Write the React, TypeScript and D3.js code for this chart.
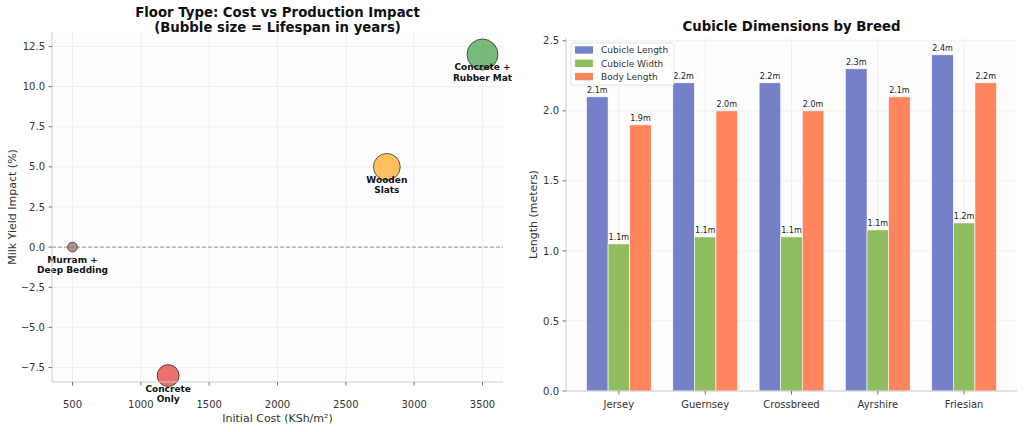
import React from "react";
import * as d3 from "d3";

// Floor options: cost, production effect and lifespan
const floorNames = ["Murram +\nDeep Bedding", "Concrete\nOnly", "Wooden\nSlats", "Concrete +\nRubber Mat"];
const floorCost = [500, 1200, 2800, 3500];
const milkImpact = [0, -8, 5, 12];
const lifespanYears = [2, 10, 15, 20];
const floorColors = ["#8D6E63", "#E53935", "#FFA726", "#43A047"];
const costTicks = [500, 1000, 1500, 2000, 2500, 3000, 3500];
const impactTicks = [-7.5, -5, -2.5, 0, 2.5, 5, 7.5, 10, 12.5];

// Cubicle sizes per breed
const breeds = ["Jersey", "Guernsey", "Crossbreed", "Ayrshire", "Friesian"];
const cubicleLength = [2.1, 2.2, 2.2, 2.3, 2.4];
const cubicleWidth = [1.05, 1.1, 1.1, 1.15, 1.2];
const bodyLength = [1.9, 2.0, 2.0, 2.1, 2.2];
const seriesNames = ["Cubicle Length", "Cubicle Width", "Body Length"];
const seriesColors = ["#5C6BC0", "#7CB342", "#FF7043"];
const lengthTicks = [0, 0.5, 1.0, 1.5, 2.0, 2.5];

const FONT = "DejaVu Sans, sans-serif";
const GRID = "#ececec";
const SPINE = "#cccccc";
const TEXT = "#333333";
const TITLE_SIZE = 13.3;
const fmt1 = d3.format(".1f");

function FloorChart() {
  const left = 52, right = 503, top = 32, bottom = 382;
  const x = d3.scaleLinear().domain([350, 3650]).range([left, right]);
  const y = d3.scaleLinear().domain([-8.4, 13.4]).range([bottom, top]);
  const r = d3.scaleSqrt().domain([0, 20]).range([0, 15.5]);
  return (
    <g>
      <rect x={left} y={top} width={right - left} height={bottom - top} fill="#fdfdfd" />
      {costTicks.map((t) => (
        <line key={"gx" + t} x1={x(t)} x2={x(t)} y1={top} y2={bottom} stroke={GRID} strokeWidth={0.8} />
      ))}
      {impactTicks.map((t) => (
        <line key={"gy" + t} x1={left} x2={right} y1={y(t)} y2={y(t)} stroke={GRID} strokeWidth={0.8} />
      ))}
      <line x1={left} x2={right} y1={y(0)} y2={y(0)} stroke="#808080" strokeOpacity={0.8} strokeWidth={1} strokeDasharray="4,2" />
      {floorCost.map((c, i) => (
        <circle key={"b" + i} cx={x(c)} cy={y(milkImpact[i])} r={r(lifespanYears[i])}
          fill={floorColors[i]} fillOpacity={0.72} stroke="#222" strokeOpacity={0.7} strokeWidth={1} />
      ))}
      {floorCost.map((c, i) => (
        <text key={"l" + i} x={x(c)} y={y(milkImpact[i]) + 16} fontFamily={FONT} fontSize={9}
          fontWeight="bold" textAnchor="middle" fill="#111">
          {floorNames[i].split("\n").map((s, j) => (
            <tspan key={j} x={x(c)} dy={j === 0 ? 0 : 10.2}>{s}</tspan>
          ))}
        </text>
      ))}
      <line x1={left} x2={left} y1={top} y2={bottom} stroke={SPINE} strokeWidth={1} />
      <line x1={left} x2={right} y1={bottom} y2={bottom} stroke={SPINE} strokeWidth={1} />
      {costTicks.map((t) => (
        <g key={"tx" + t}>
          <line x1={x(t)} x2={x(t)} y1={bottom} y2={bottom + 3.5} stroke="#555" strokeWidth={0.8} />
          <text x={x(t)} y={bottom + 26} fontFamily={FONT} fontSize={10} textAnchor="middle" fill={TEXT}>{t}</text>
        </g>
      ))}
      {impactTicks.map((t) => (
        <g key={"ty" + t}>
          <line x1={left - 3.5} x2={left} y1={y(t)} y2={y(t)} stroke="#555" strokeWidth={0.8} />
          <text x={left - 7} y={y(t) + 3.6} fontFamily={FONT} fontSize={10} textAnchor="end" fill={TEXT}>{fmt1(t)}</text>
        </g>
      ))}
      <text x={(left + right) / 2} y={422} fontFamily={FONT} fontSize={11} textAnchor="middle" fill={TEXT}>Initial Cost (KSh/m²)</text>
      <text transform={`translate(16,${(top + bottom) / 2}) rotate(-90)`} fontFamily={FONT} fontSize={11} textAnchor="middle" fill={TEXT}>Milk Yield Impact (%)</text>
      <text x={(left + right) / 2} y={17} fontFamily={FONT} fontSize={TITLE_SIZE} fontWeight="bold" textAnchor="middle" fill="#111">Floor Type: Cost vs Production Impact</text>
      <text x={(left + right) / 2} y={31.5} fontFamily={FONT} fontSize={TITLE_SIZE} fontWeight="bold" textAnchor="middle" fill="#111">(Bubble size = Lifespan in years)</text>
    </g>
  );
}

function BreedChart() {
  const left = 566, right = 1017, top = 38, bottom = 391;
  const x = d3.scaleLinear().domain([-0.6125, 4.6125]).range([left, right]);
  const y = d3.scaleLinear().domain([0, 2.52]).range([bottom, top]);
  const barW = 0.25;
  const series = [cubicleLength, cubicleWidth, bodyLength];
  const bw = x(barW) - x(0);
  return (
    <g>
      <rect x={left} y={top} width={right - left} height={bottom - top} fill="#fdfdfd" />
      {breeds.map((_, i) => (
        <line key={"gx" + i} x1={x(i)} x2={x(i)} y1={top} y2={bottom} stroke={GRID} strokeWidth={0.8} />
      ))}
      {lengthTicks.map((t) => (
        <line key={"gy" + t} x1={left} x2={right} y1={y(t)} y2={y(t)} stroke={GRID} strokeWidth={0.8} />
      ))}
      {series.map((vals, s) =>
        vals.map((v, i) => {
          const cx = x(i + (s - 1) * barW);
          return (
            <g key={`bar${s}-${i}`}>
              <rect x={cx - bw / 2} y={y(v)} width={bw} height={y(0) - y(v)} fill={seriesColors[s]}
                fillOpacity={0.85} stroke="#fff" strokeWidth={0.6} />
              <text x={cx} y={y(v) - 3.5} fontFamily={FONT} fontSize={8} textAnchor="middle" fill="#222">{fmt1(v)}m</text>
            </g>
          );
        })
      )}
      <line x1={left} x2={left} y1={top} y2={bottom} stroke={SPINE} strokeWidth={1} />
      <line x1={left} x2={right} y1={bottom} y2={bottom} stroke={SPINE} strokeWidth={1} />
      {breeds.map((b, i) => (
        <g key={"tx" + b}>
          <line x1={x(i)} x2={x(i)} y1={bottom} y2={bottom + 3.5} stroke="#555" strokeWidth={0.8} />
          <text x={x(i)} y={bottom + 17} fontFamily={FONT} fontSize={10} textAnchor="middle" fill={TEXT}>{b}</text>
        </g>
      ))}
      {lengthTicks.map((t) => (
        <g key={"ty" + t}>
          <line x1={left - 3.5} x2={left} y1={y(t)} y2={y(t)} stroke="#555" strokeWidth={0.8} />
          <text x={left - 7} y={y(t) + 3.6} fontFamily={FONT} fontSize={10} textAnchor="end" fill={TEXT}>{fmt1(t)}</text>
        </g>
      ))}
      <text transform={`translate(537,${(top + bottom) / 2}) rotate(-90)`} fontFamily={FONT} fontSize={11} textAnchor="middle" fill={TEXT}>Length (meters)</text>
      <text x={(left + right) / 2} y={31.4} fontFamily={FONT} fontSize={TITLE_SIZE} fontWeight="bold" textAnchor="middle" fill="#111">Cubicle Dimensions by Breed</text>
      <g transform="translate(571,43)">
        <rect x={0} y={0} width={103} height={42} rx={2} fill="#fff" fillOpacity={0.85} stroke="#dddddd" strokeWidth={0.8} />
        {seriesNames.map((n, s) => (
          <g key={n} transform={`translate(0,${7 + s * 13.3})`}>
            <rect x={4} y={-3.7} width={18} height={7.4} fill={seriesColors[s]} fillOpacity={0.85} />
            <text x={30} y={3.3} fontFamily={FONT} fontSize={9} fill={TEXT}>{n}</text>
          </g>
        ))}
      </g>
    </g>
  );
}

export default function App() {
  return (
    <svg width={1024} height={432} viewBox="0 0 1024 432"
      style={{ position: "absolute", left: 0, top: 0, display: "block", background: "#fff" }}>
      <rect width={1024} height={432} fill="#fff" />
      <FloorChart />
      <BreedChart />
    </svg>
  );
}
